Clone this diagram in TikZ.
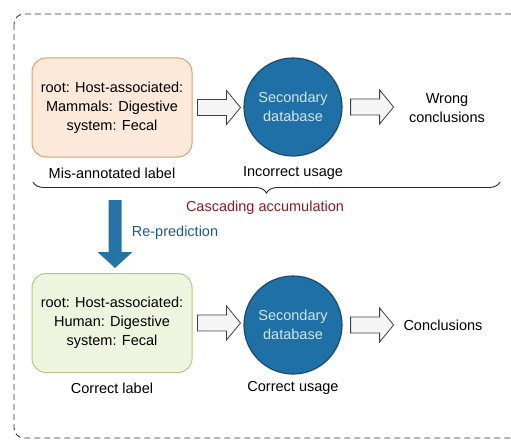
\documentclass[tikz,border=0pt]{standalone}
\usepackage{fontspec}
\setmainfont{Liberation Sans}
\usetikzlibrary{calc,decorations.pathreplacing}
\definecolor{peachfill}{HTML}{FDE9D9}
\definecolor{peachdraw}{HTML}{D4A070}
\definecolor{greenfill}{HTML}{EFF4DF}
\definecolor{greendraw}{HTML}{B3C98A}
\definecolor{dbfill}{HTML}{1F70A6}
\definecolor{dbdraw}{HTML}{1A4A70}
\definecolor{dbtext}{HTML}{D2E6F4}
\definecolor{cascred}{HTML}{8B1A22}
\definecolor{repblue}{HTML}{1F5A85}
\definecolor{bigarrow}{HTML}{2474A8}
% #1 start node anchor, #2 end node anchor (for reference), #3 start gap
\newcommand{\blockarr}[3]{%
  \draw[blockarrow] let \p1=($(#1)+(#3,0)$), \p2=($(#1)+(#3+43,0)$) in
    (\x1,\y1+8pt) -- (\x2-14pt,\y1+8pt) -- (\x2-14pt,\y1+17pt) -- (\x2,\y1)
    -- (\x2-14pt,\y1-17pt) -- (\x2-14pt,\y1-8pt) -- (\x1,\y1-8pt) -- cycle;}
\begin{document}
\begin{tikzpicture}[x=1pt,y=-1pt,
  txt/.style={font=\fontsize{14.5}{19}\selectfont, align=center, inner sep=0pt},
  labelbox/.style={txt, rounded corners=14pt, minimum width=160pt, minimum height=99pt, line width=1pt},
  db/.style={txt, circle, fill=dbfill, draw=dbdraw, line width=1.2pt, minimum size=98pt, text=dbtext},
  blockarrow/.style={fill=gray!8, draw=gray!50!black, line width=0.8pt},
  frame/.style={draw=black!80, dash pattern=on 6pt off 4pt, line width=0.9pt, rounded corners=10pt},
  bracestyle/.style={decorate, decoration={brace, mirror, amplitude=11pt}, draw=black!85, line width=0.9pt}
]
\useasboundingbox (0,0) rectangle (511,444);
\begin{scope}
  \clip (0,0) rectangle (511,444);
  \draw[frame] (14,14) rectangle (535,438);
\end{scope}

% top row
\node[labelbox, fill=peachfill, draw=peachdraw] (l1) at (112,107.5) {root: Host-associated:\\Mammals: Digestive\\system: Fecal};
\node[db] (d1) at (293,107) {Secondary\\database};
\node[txt] (w1) at (447,108) {Wrong\\conclusions};
\node[txt] (m1) at (112,173) {Mis-annotated label};
\node[txt] (i1) at (293,173) {Incorrect usage};
\blockarr{l1.east}{d1.west}{5}
\blockarr{d1.east}{w1.west}{8}

% brace
\coordinate (bl) at (33,182);
\coordinate (br) at (500,182);
\draw[bracestyle] (bl) -- (br);
\node[txt, text=cascred] (ca) at (265,208) {Cascading accumulation};

% re-prediction arrow
\coordinate (rp) at (115,200);
\node[txt, text=repblue] (re) at (175,233) {Re-prediction};

% bottom row
\node[labelbox, fill=greenfill, draw=greendraw] (l2) at (112,323) {root: Host-associated:\\Human: Digestive\\system: Fecal};
\node[db] (d2) at (293,325) {Secondary\\database};
\node[txt] (c2) at (443,325) {Conclusions};
\node[txt] (m2) at (112,388) {Correct label};
\node[txt] (i2) at (293,388) {Correct usage};
\blockarr{l2.east}{d2.west}{5}
\blockarr{d2.east}{c2.west}{8}

\fill[bigarrow] let \p1=(rp), \p2=($(l2.north)+(0,-5)$) in
  (\x1-6.5pt,\y1) -- (\x1-6.5pt,\y2+16pt) -- (\x1-17.5pt,\y2+16pt) -- (\x1,\y2)
  -- (\x1+17.5pt,\y2+16pt) -- (\x1+6.5pt,\y2+16pt) -- (\x1+6.5pt,\y1) -- cycle;
\end{tikzpicture}
\end{document}
